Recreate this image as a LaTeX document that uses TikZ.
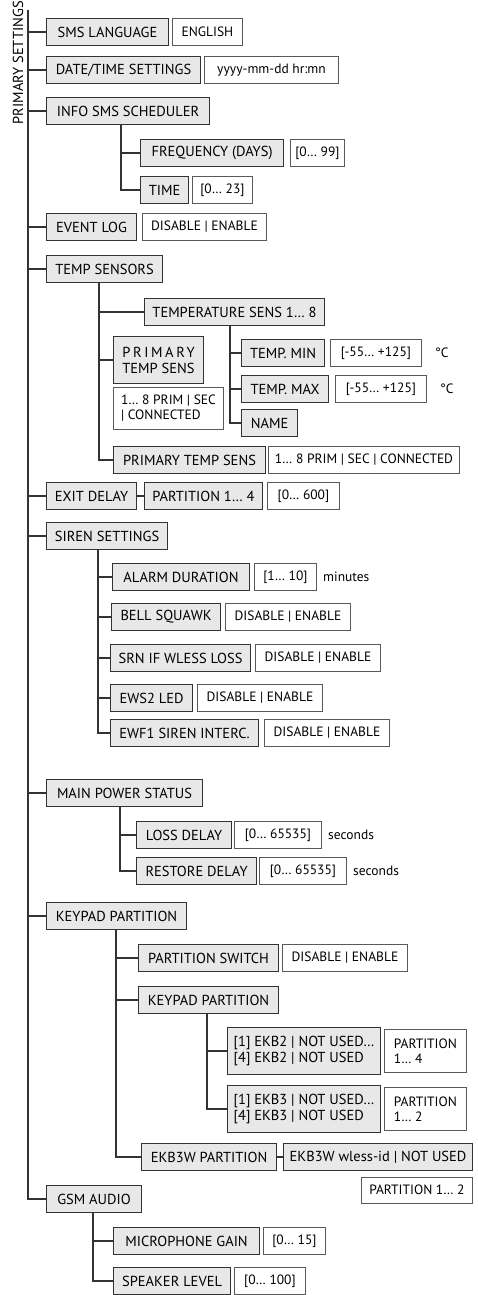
\documentclass[tikz,border=0pt]{standalone}
\usepackage{fontspec}
\setmainfont{PT Sans}

\begin{document}
\begin{tikzpicture}[
  x=1pt,y=-1pt,
  tree/.style={draw=black!80,line width=1.3pt},
  menu/.style={draw=black!80,line width=1.1pt,fill=black!9,anchor=west,minimum height=27pt,inner xsep=3pt,font=\fontsize{14.5}{16}\selectfont},
  val/.style={draw=black!65,line width=0.9pt,fill=white,anchor=west,minimum height=27pt,inner xsep=3pt,font=\fontsize{13.5}{15}\selectfont},
  unit/.style={anchor=west,inner sep=0pt,font=\fontsize{13.5}{15}\selectfont},
  w/.style={minimum width=#1pt}
]
\useasboundingbox (0,0) rectangle (478,1295);
\node[rotate=90,anchor=east,inner sep=0pt,font=\fontsize{14.5}{16}\selectfont] (title) at (18,1) {PRIMARY SETTINGS};
\coordinate (root) at (28,10);
% first level
\node[menu,w=122] (sms) at (46,32) {SMS LANGUAGE};
\node[val,w=70] (smsv) at (172,32) {ENGLISH};
\node[menu,w=154] (dt) at (46,70) {DATE/TIME SETTINGS};
\node[val,w=134] (dtv) at (204,70) {yyyy-mm-dd hr:mn};
\node[menu,w=163] (info) at (46,111) {INFO SMS SCHEDULER};
\node[menu,w=143] (freq) at (140,153) {FREQUENCY (DAYS)};
\node[val,w=54] (freqv) at (290,153) {[0… 99]};
\node[menu,w=48] (time) at (140,190) {TIME};
\node[val,w=60] (timev) at (192,190) {[0… 23]};
\node[menu,w=90] (evlog) at (46,227) {EVENT LOG};
\node[val,w=124] (evlogv) at (142,227) {DISABLE | ENABLE};
% temperature sensors
\node[menu,w=116] (temp) at (46,269) {TEMP SENSORS};
\node[menu,w=180] (tsens) at (144,312) {TEMPERATURE SENS 1… 8};
\node[menu,w=83] (tmin) at (241,353) {TEMP. MIN};
\node[val,w=91] (tminv) at (330,353) {[-55… +125]};
\node[unit] (tminu) at (435,353) {°C};
\node[menu,w=87] (tmax) at (241,389) {TEMP. MAX};
\node[val,w=91] (tmaxv) at (335,389) {[-55… +125]};
\node[unit] (tmaxu) at (440,389) {°C};
\node[menu,w=56] (tname) at (241,423) {NAME};
\node[menu,w=90,minimum height=47pt,align=left] (prim) at (113,360) {{\addfontfeature{LetterSpace=18}PRIMARY}\\TEMP SENS};
\node[val,w=110,minimum height=42pt,align=left] (primv) at (113,408) {1… 8 PRIM | SEC\\| CONNECTED};
\node[menu,w=152] (prim2) at (113,460) {PRIMARY TEMP SENS};
\node[val,w=191] (prim2v) at (268,460) {1… 8 PRIM | SEC | CONNECTED};
% exit delay
\node[menu,w=90] (exit) at (46,496) {EXIT DELAY};
\node[menu,w=118] (part4) at (144,496) {PARTITION 1… 4};
\node[val,w=72] (exitv) at (267,496) {[0… 600]};
% siren
\node[menu,w=121] (siren) at (46,536) {SIREN SETTINGS};
\node[menu,w=137] (alarm) at (112,577) {ALARM DURATION};
\node[val,w=62] (alarmv) at (254,577) {[1… 10]};
\node[unit] (alarmu) at (323,577) {minutes};
\node[menu,w=109] (bell) at (111,617) {BELL SQUAWK};
\node[val,w=125] (bellv) at (225,617) {DISABLE | ENABLE};
\node[menu,w=140] (srn) at (110,658) {SRN IF WLESS LOSS};
\node[val,w=125] (srnv) at (255,658) {DISABLE | ENABLE};
\node[menu,w=82] (ews) at (110,698) {EWS2 LED};
\node[val,w=125] (ewsv) at (197,698) {DISABLE | ENABLE};
\node[menu,w=148] (ewf) at (110,733) {EWF1 SIREN INTERC.};
\node[val,w=125] (ewfv) at (264,733) {DISABLE | ENABLE};
% main power
\node[menu,w=156] (mps) at (46,793) {MAIN POWER STATUS};
\node[menu,w=95] (loss) at (136,835) {LOSS DELAY};
\node[val,w=87] (lossv) at (234,835) {[0… 65535]};
\node[unit] (lossu) at (328,835) {seconds};
\node[menu,w=120] (rest) at (136,871) {RESTORE DELAY};
\node[val,w=87] (restv) at (259,871) {[0… 65535]};
\node[unit] (restu) at (353,871) {seconds};
% keypad partition
\node[menu,w=140] (kp) at (46,916) {KEYPAD PARTITION};
\node[menu,w=140] (psw) at (138,958) {PARTITION SWITCH};
\node[val,w=125] (pswv) at (282,958) {DISABLE | ENABLE};
\node[menu,w=140] (kp2) at (138,1000) {KEYPAD PARTITION};
\node[menu,w=153,minimum height=47pt,align=left] (ekb2) at (227,1051) {[1] EKB2 | NOT USED…\\{}[4] EKB2 | NOT USED};
\node[val,w=82,minimum height=43pt,align=left] (ekb2v) at (384,1051) {PARTITION\\1… 4};
\node[menu,w=153,minimum height=47pt,align=left] (ekb3) at (227,1109) {[1] EKB3 | NOT USED…\\{}[4] EKB3 | NOT USED};
\node[val,w=82,minimum height=43pt,align=left] (ekb3v) at (384,1109) {PARTITION\\1… 2};
\node[menu,w=135] (ekb3w) at (141,1157) {EKB3W PARTITION};
\node[menu,w=189] (wless) at (283,1157) {EKB3W wless-id | NOT USED};
\node[val,w=111,minimum height=26pt] (wlessv) at (361,1190) {PARTITION 1… 2};
% gsm audio
\node[menu,w=95] (gsm) at (46,1199) {GSM AUDIO};
\node[menu,w=146] (mic) at (113,1241) {MICROPHONE GAIN};
\node[val,w=62] (micv) at (263,1241) {[0… 15]};
\node[menu,w=117] (spk) at (113,1281) {SPEAKER LEVEL};
\node[val,w=71] (spkv) at (234,1281) {[0… 100]};
% connectors
\foreach \c in {sms,dt,info,evlog,temp,exit,siren,mps,kp,gsm}
  \draw[tree] (root) |- (\c.west);
\foreach \p/\s/\c in {info/75/freq,info/75/time,temp/53/tsens,temp/53/prim,temp/53/prim2,
    tsens/86/tmin,tsens/86/tmax,tsens/86/tname,siren/52/alarm,siren/52/bell,siren/52/srn,
    siren/52/ews,siren/52/ewf,mps/74/loss,mps/74/rest,kp/70/psw,kp/70/kp2,kp/70/ekb3w,
    kp2/69/ekb2,kp2/69/ekb3,gsm/47/mic,gsm/47/spk}
  \draw[tree] ([xshift=\s]\p.south west) |- (\c.west);
\draw[tree] (exit) -- (part4);
\draw[tree] (ekb3w) -- (wless);
\end{tikzpicture}
\end{document}
